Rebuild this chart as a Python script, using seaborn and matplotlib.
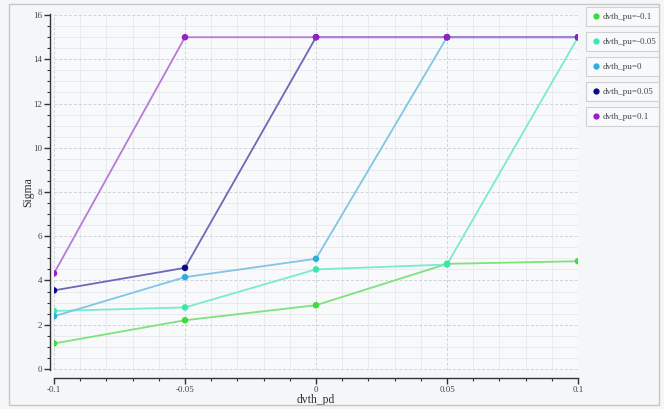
import matplotlib
matplotlib.use("Agg")
import matplotlib.pyplot as plt
import matplotlib.patches as mpatches
from matplotlib.lines import Line2D
from matplotlib.ticker import MultipleLocator
import pandas as pd
import seaborn as sns

# data
dvth_pd = [-0.1, -0.05, 0, 0.05, 0.1]
sigma_pu_m01 = [1.15, 2.2, 2.88, 4.75, 4.87]
sigma_pu_m005 = [2.62, 2.78, 4.5, 4.72, 15]
sigma_pu_0 = [2.38, 4.15, 4.98, 15, 15]
sigma_pu_005 = [3.55, 4.57, 15, 15, 15]
sigma_pu_01 = [4.32, 15, 15, 15, 15]

labels = ["dvth_pu=-0.1", "dvth_pu=-0.05", "dvth_pu=0", "dvth_pu=0.05", "dvth_pu=0.1"]
marker_colors = ["#3ddc3d", "#3de6b0", "#2eaedc", "#0a0a8c", "#9a1ec8"]
line_colors = ["#7ee27e", "#7aead0", "#80c6e4", "#6a6ab8", "#b77ad8"]

series = [sigma_pu_m01, sigma_pu_m005, sigma_pu_0, sigma_pu_005, sigma_pu_01]
rows = []
for lab, vals in zip(labels, series):
    for x, v in zip(dvth_pd, vals):
        rows.append({"dvth_pd": x, "Sigma": v, "series": lab})
df = pd.DataFrame(rows)

sns.set_style("white")
plt.rcParams['font.family'] = ['Liberation Serif', 'DejaVu Serif']

bg = "#f5f6f8"
fig = plt.figure(figsize=(6.64, 4.09), dpi=100, facecolor=bg)
ax = fig.add_axes([54 / 664, 1 - 370 / 409, (578 - 54) / 664, (370 - 14) / 409])
ax.set_facecolor("#f8f9fa")

sns.lineplot(data=df, x="dvth_pd", y="Sigma", hue="series", hue_order=labels,
             palette=dict(zip(labels, line_colors)), linewidth=1.3,
             legend=False, ax=ax)
sns.scatterplot(data=df, x="dvth_pd", y="Sigma", hue="series", hue_order=labels,
                palette=dict(zip(labels, marker_colors)), s=22, linewidth=0,
                legend=False, ax=ax, zorder=5)

ax.set_xlim(-0.1, 0.1)
ax.set_ylim(-0.05, 16.05)
ax.xaxis.set_major_locator(MultipleLocator(0.05))
ax.xaxis.set_minor_locator(MultipleLocator(0.01))
ax.yaxis.set_major_locator(MultipleLocator(2))
ax.yaxis.set_minor_locator(MultipleLocator(0.5))
ax.set_xticks([-0.1, -0.05, 0, 0.05, 0.1])
ax.set_xticklabels(["-0.1", "-0.05", "0", "0.05", "0.1"])

ax.grid(which="major", color="#cfd2d6", linestyle=(0, (3, 2)), linewidth=0.7)
ax.grid(which="minor", color="#e6e8eb", linestyle="-", linewidth=0.6)
ax.set_axisbelow(True)

sns.despine(ax=ax, offset={"left": 3, "bottom": 6})
for s in ["left", "bottom"]:
    ax.spines[s].set_color("#333333")
    ax.spines[s].set_linewidth(1.0)
ax.tick_params(which="major", length=4, width=1, color="#333333", pad=1.5,
               labelsize=6.5, labelcolor="#444444", left=True, bottom=True)
ax.tick_params(which="minor", length=2, width=0.8, color="#333333",
               left=True, bottom=True)

ax.set_xlabel("dvth_pd", fontsize=8.5, color="#333333", va="center")
ax.set_ylabel("Sigma", fontsize=8.5, color="#333333", va="center")
ax.xaxis.set_label_coords(0.5, -(400 - 370) / 356, transform=ax.transAxes)
ax.yaxis.set_label_coords(-(54 - 28) / 524, 0.5, transform=ax.transAxes)

# one boxed legend entry per series, stacked on the right
tops = [7, 32, 57, 82, 107]
for lab, col, top in zip(labels, marker_colors, tops):
    h = Line2D([], [], marker="o", linestyle="none", color=col, markersize=3.5)
    leg = fig.legend(handles=[h], labels=[lab], loc="upper left", mode="expand",
                     bbox_to_anchor=(586 / 664, 1 - (top + 21) / 409, 73 / 664, 21 / 409),
                     frameon=True, fancybox=False,
                     handletextpad=0.2, borderpad=0.6, handlelength=1.0,
                     borderaxespad=0,
                     prop={"family": "Liberation Serif", "size": 6.5})
    leg.get_frame().set_edgecolor("#c8c8c8")
    leg.get_frame().set_facecolor("#fafbfc")
    leg.get_frame().set_linewidth(0.8)
    for t in leg.get_texts():
        t.set_color("#444444")

# outer panel border
fig.patches.append(mpatches.Rectangle((9 / 664, 4 / 409), 650 / 664, 401 / 409,
                                      transform=fig.transFigure, fill=False,
                                      edgecolor="#c4c6c9", linewidth=1.0))

plt.savefig("out.png", dpi=100, facecolor=bg)
